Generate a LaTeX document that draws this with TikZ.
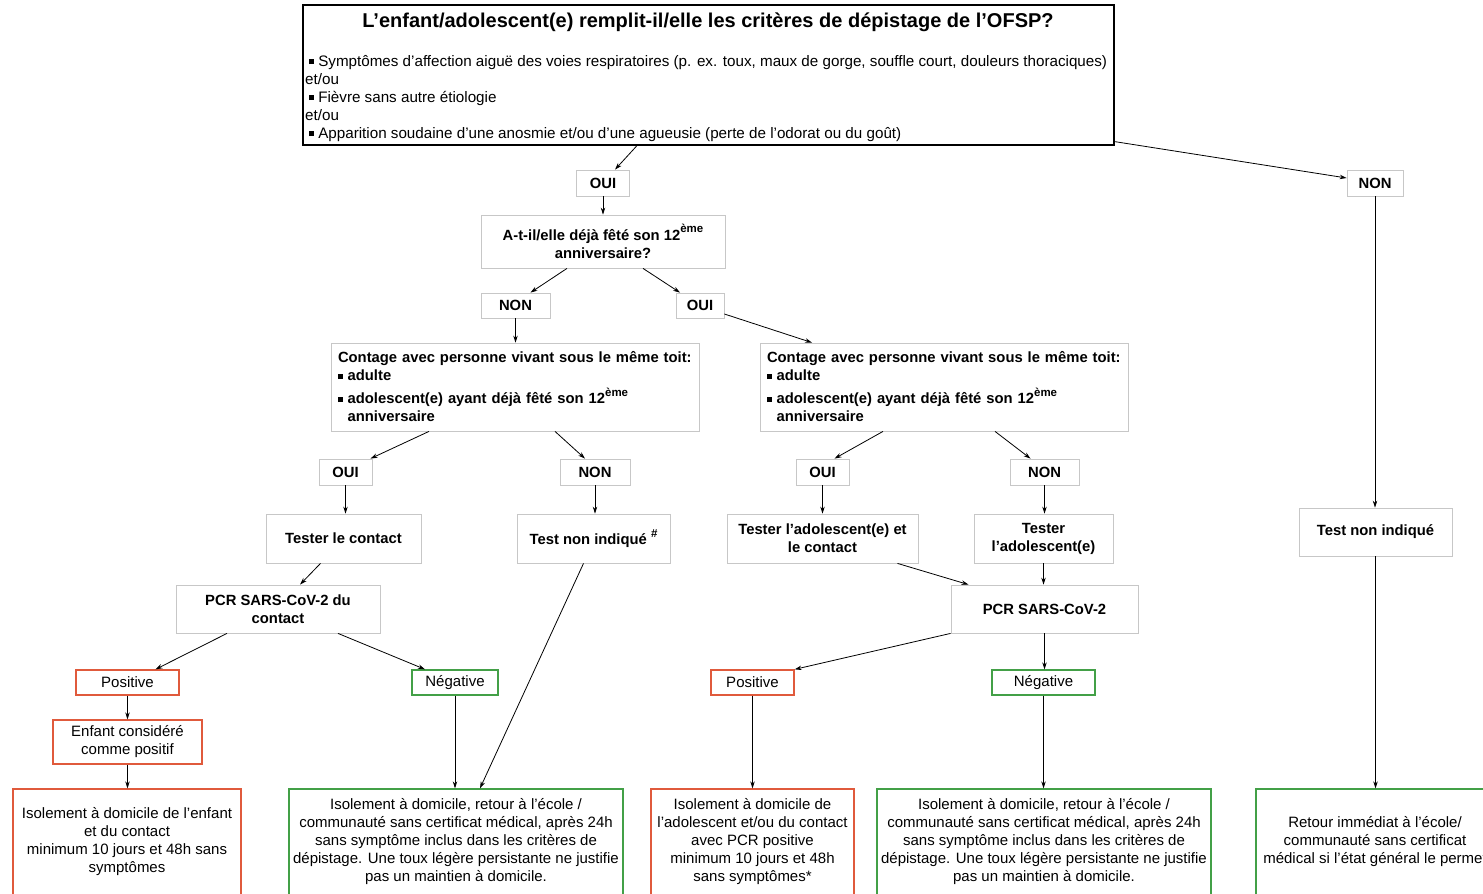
\documentclass[tikz,border=0pt]{standalone}
\usepackage{fontspec}
\setmainfont{Liberation Sans}
\usetikzlibrary{arrows.meta}
\definecolor{redb}{HTML}{E05A3C}
\definecolor{greenb}{HTML}{43A047}
\newcommand{\sqb}{\raisebox{0.12em}{\rule{0.32em}{0.32em}}\ }
\newcommand{\supx}[1]{\raisebox{0.5em}{\fontsize{11.5}{11.5}\selectfont #1}}
\tikzset{
  box/.style={rectangle, inner sep=2pt, align=center, fill=white},
  gbox/.style={box, draw=black!22, line width=0.8pt, font=\bfseries\fontsize{14.8}{18}\selectfont},
  rbox/.style={box, draw=redb, line width=1.3pt, font=\fontsize{15}{18}\selectfont},
  gnbox/.style={box, draw=greenb, line width=1.3pt, font=\fontsize{15}{18}\selectfont},
  topbox/.style={rectangle, draw=black, line width=1.2pt, inner sep=0pt},
  bul/.style={anchor=base west, inner sep=0pt, font=\fontsize{15.2}{18}\selectfont},
  arr/.style={-{Stealth[length=7pt,width=4.5pt]}, line width=0.8pt}
}
\begin{document}
\begin{tikzpicture}[x=1pt,y=-1pt]
\useasboundingbox (0,0) rectangle (1483,894);
\clip (0,0) rectangle (1483,894);
% top question box
\node[topbox, minimum width=811, minimum height=140] (top) at (708.5,75) {};
\node[inner sep=0pt, font=\bfseries\fontsize{20}{22}\selectfont] (title) at (708,22) {L’enfant/adolescent(e) remplit-il/elle les critères de dépistage de l’OFSP?};
\node[bul] (l1) at (309,66) {\sqb Symptômes d’affection aiguë des voies respiratoires (p. ex. toux, maux de gorge, souffle court, douleurs thoraciques)};
\node[bul] (l2) at (305,84) {et/ou};
\node[bul] (l3) at (309,102) {\sqb Fièvre sans autre étiologie};
\node[bul] (l4) at (305,120) {et/ou};
\node[bul] (l5) at (309,138) {\sqb Apparition soudaine d’une anosmie et/ou d’une agueusie (perte de l’odorat ou du goût)};

\node[gbox, minimum width=53, minimum height=26] (oui1) at (603,183) {OUI};
\node[gbox, minimum width=56, minimum height=26] (non5) at (1375,183) {NON};
\node[gbox, minimum width=244, minimum height=53] (age) at (603,241.5) {A-t-il/elle déjà fêté son 12\supx{ème}\\anniversaire?};
\node[gbox, minimum width=69, minimum height=25] (non1) at (515.5,305.5) {NON};
\node[gbox, minimum width=48, minimum height=25] (oui2) at (700,305.5) {OUI};

\node[gbox, minimum width=368, minimum height=88, text width=354, align=left, inner sep=7pt] (contL) at (515,387)
  {Contage avec personne vivant sous le même toit:\\ \sqb adulte\\[5pt] \sqb adolescent(e) ayant déjà fêté son 12\supx{ème}\\ \phantom{\sqb}anniversaire};
\node[gbox, minimum width=368, minimum height=88, text width=354, align=left, inner sep=7pt] (contR) at (944,387)
  {Contage avec personne vivant sous le même toit:\\ \sqb adulte\\[5pt] \sqb adolescent(e) ayant déjà fêté son 12\supx{ème}\\ \phantom{\sqb}anniversaire};

\node[gbox, minimum width=53, minimum height=26] (oui3) at (345.5,472) {OUI};
\node[gbox, minimum width=70, minimum height=26] (non3) at (595,472) {NON};
\node[gbox, minimum width=53, minimum height=26] (oui4) at (822.5,472) {OUI};
\node[gbox, minimum width=69, minimum height=26] (non4) at (1044.5,472) {NON};

\node[gbox, minimum width=155, minimum height=49] (tc) at (343.5,538.5) {Tester le contact};
\node[gbox, minimum width=153, minimum height=49] (tni) at (593.5,538.5) {Test non indiqué \supx{\#}};
\node[gbox, minimum width=191, minimum height=49] (tac) at (822.5,538.5) {Tester l’adolescent(e) et\\le contact};
\node[gbox, minimum width=139, minimum height=49] (ta) at (1043.5,538.5) {Tester\\l’adolescent(e)};
\node[gbox, minimum width=153, minimum height=48] (tni2) at (1375.5,532) {Test non indiqué};

\node[gbox, minimum width=204, minimum height=48] (pcr1) at (278,609) {PCR SARS-CoV-2 du\\contact};
\node[gbox, minimum width=187, minimum height=48] (pcr2) at (1044.5,609) {PCR SARS-CoV-2};

\node[rbox, minimum width=103, minimum height=25] (pos1) at (127.5,682.5) {Positive};
\node[gnbox, minimum width=86, minimum height=25] (neg1) at (455,682.5) {Négative};
\node[rbox, minimum width=83, minimum height=25] (pos2) at (752.5,682.5) {Positive};
\node[gnbox, minimum width=103, minimum height=25] (neg2) at (1043.5,682.5) {Négative};
\node[rbox, minimum width=149, minimum height=44] (enf) at (127.5,742) {Enfant considéré\\comme positif};

\node[rbox, minimum width=228, minimum height=106] (b1) at (127,842) {Isolement à domicile de l’enfant\\et du contact\\minimum 10 jours et 48h sans\\symptômes};
\node[gnbox, minimum width=334, minimum height=106] (b2) at (456,842) {Isolement à domicile, retour à l’école /\\communauté sans certificat médical, après 24h\\sans symptôme inclus dans les critères de\\dépistage. Une toux légère persistante ne justifie\\pas un maintien à domicile.};
\node[rbox, minimum width=203, minimum height=106] (b3) at (752.5,842) {Isolement à domicile de\\l’adolescent et/ou du contact\\avec PCR positive\\minimum 10 jours et 48h\\sans symptômes*};
\node[gnbox, minimum width=334, minimum height=106] (b4) at (1044,842) {Isolement à domicile, retour à l’école /\\communauté sans certificat médical, après 24h\\sans symptôme inclus dans les critères de\\dépistage. Une toux légère persistante ne justifie\\pas un maintien à domicile.};
\node[gnbox, minimum width=238, minimum height=106] (b5) at (1375,842) {Retour immédiat à l’école/\\communauté sans certificat\\médical si l’état général le permet};

% connectors
\draw[arr] ([xshift=-71.5pt]top.south) -- ([xshift=12pt]oui1.north);
\draw[arr] ([yshift=4pt]top.south east) -- ([yshift=5pt]non5.west);
\draw[arr] (oui1.south) -- (age.north);
\draw[arr] ([xshift=-36pt]age.south) -- ([xshift=15pt]non1.north);
\draw[arr] ([xshift=40pt]age.south) -- ([xshift=-20pt]oui2.north);
\draw[arr] (non1.south) -- (non1.south |- contL.north);
\draw[arr] ([yshift=-8.5pt]oui2.east) -- ([xshift=-132pt]contR.north);
\draw[arr] ([xshift=-86pt]contL.south) -- ([xshift=25pt]oui3.north);
\draw[arr] ([xshift=40pt]contL.south) -- ([xshift=-10pt]non3.north);
\draw[arr] ([xshift=-61pt]contR.south) -- ([xshift=12pt]oui4.north);
\draw[arr] ([xshift=51pt]contR.south) -- ([xshift=-14pt]non4.north);
\draw[arr] (oui3.south) -- (oui3.south |- tc.north);
\draw[arr] (non3.south) -- (non3.south |- tni.north);
\draw[arr] (oui4.south) -- (oui4.south |- tac.north);
\draw[arr] (non4.south) -- (non4.south |- ta.north);
\draw[arr] ([xshift=-23pt]tc.south) -- ([xshift=22pt]pcr1.north);
\draw[arr] ([xshift=75pt]tac.south) -- ([xshift=-76pt]pcr2.north);
\draw[arr] (ta.south) -- (ta.south |- pcr2.north);
\draw[arr] ([xshift=-51pt]pcr1.south) -- ([xshift=28pt]pos1.north);
\draw[arr] ([xshift=60pt]pcr1.south) -- ([xshift=-30pt]neg1.north);
\draw[arr] (pcr2.south west) -- (pos2.north east);
\draw[arr] (pcr2.south) -- (pcr2.south |- neg2.north);
\draw[arr] (pos1.south) -- (pos1.south |- enf.north);
\draw[arr] (enf.south) -- (enf.south |- b1.north);
\draw[arr] (neg1.south) -- (neg1.south |- b2.north);
\draw[arr] ([xshift=-10pt]tni.south) -- ([xshift=24pt]b2.north);
\draw[arr] (pos2.south) -- (pos2.south |- b3.north);
\draw[arr] (neg2.south) -- (neg2.south |- b4.north);
\draw[arr] (non5.south) -- (non5.south |- tni2.north);
\draw[arr] (tni2.south) -- (tni2.south |- b5.north);
\end{tikzpicture}
\end{document}
